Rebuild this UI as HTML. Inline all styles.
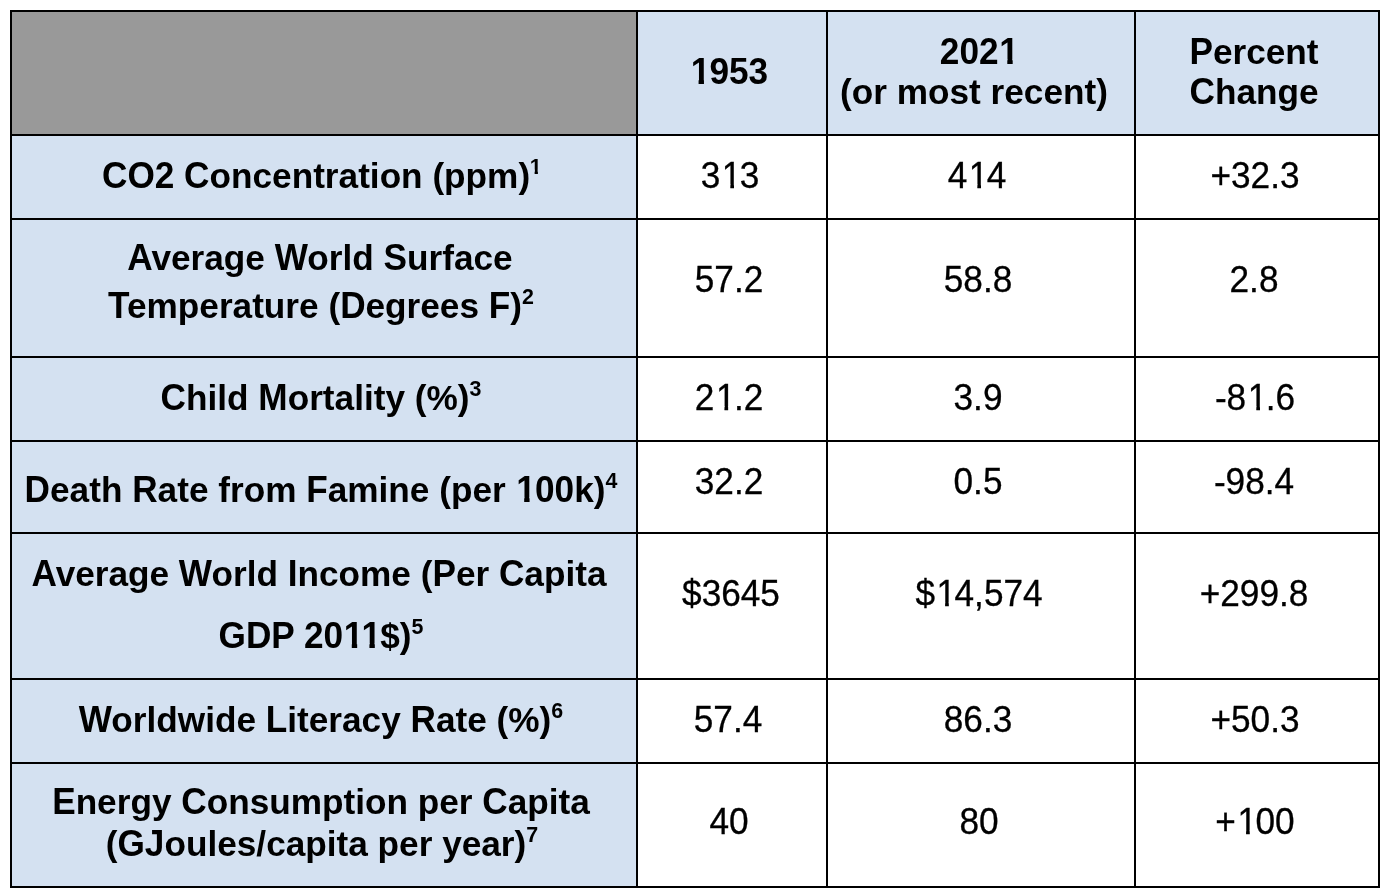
<!DOCTYPE html>
<html><head><meta charset="utf-8"><title>Table</title>
<style>
html,body{margin:0;padding:0;background:#fff;}
body{width:1394px;height:896px;position:relative;overflow:hidden;font-family:"Liberation Sans",sans-serif;color:#000;}
.grid{position:absolute;left:10px;top:10px;width:1370px;height:878px;background:#000;}
.c{position:absolute;}
.b{background:#d4e1f1;}
.g{background:#999999;}
.w{background:#fff;}
.t{position:absolute;width:800px;height:40px;line-height:40px;font-size:35.2px;text-align:center;white-space:nowrap;will-change:transform;transform-origin:50% 32px;}
.rg{-webkit-text-stroke:.3px #000;}
.bd{font-weight:bold;}
.k1{transform:scaleY(1.03);}
.k2{transform:scaleY(1.02);}
.x{color:transparent;}
.s{font-size:21.4px;position:relative;top:-13.8px;line-height:0;}
.o,.ob{display:inline-block;line-height:1em;position:relative;}
.o{left:.045em;clip-path:polygon(0 0,100% 0,100% .75em,.348em .75em,.348em 100%,.2435em 100%,.2435em .75em,0 .75em);}
.ob{left:.023em;clip-path:polygon(0 0,100% 0,100% .722em,.3786em .722em,.3786em 100%,.2254em 100%,.2254em .722em,0 .722em);}
.s .ob{left:-.015em;clip-path:polygon(0 0,100% 0,100% .6em,.3786em .6em,.3786em 100%,.2254em 100%,.2254em .6em,0 .6em);}
.k{margin-left:-.0552em;}
</style></head><body>
<div class="grid"></div>
<div class="c g" style="left:12px;top:12px;width:624px;height:122px"></div>
<div class="c b" style="left:638px;top:12px;width:188px;height:122px"></div>
<div class="c b" style="left:828px;top:12px;width:306px;height:122px"></div>
<div class="c b" style="left:1136px;top:12px;width:242px;height:122px"></div>
<div class="c b" style="left:12px;top:136px;width:624px;height:82px"></div>
<div class="c w" style="left:638px;top:136px;width:188px;height:82px"></div>
<div class="c w" style="left:828px;top:136px;width:306px;height:82px"></div>
<div class="c w" style="left:1136px;top:136px;width:242px;height:82px"></div>
<div class="c b" style="left:12px;top:220px;width:624px;height:136px"></div>
<div class="c w" style="left:638px;top:220px;width:188px;height:136px"></div>
<div class="c w" style="left:828px;top:220px;width:306px;height:136px"></div>
<div class="c w" style="left:1136px;top:220px;width:242px;height:136px"></div>
<div class="c b" style="left:12px;top:358px;width:624px;height:82px"></div>
<div class="c w" style="left:638px;top:358px;width:188px;height:82px"></div>
<div class="c w" style="left:828px;top:358px;width:306px;height:82px"></div>
<div class="c w" style="left:1136px;top:358px;width:242px;height:82px"></div>
<div class="c b" style="left:12px;top:442px;width:624px;height:90px"></div>
<div class="c w" style="left:638px;top:442px;width:188px;height:90px"></div>
<div class="c w" style="left:828px;top:442px;width:306px;height:90px"></div>
<div class="c w" style="left:1136px;top:442px;width:242px;height:90px"></div>
<div class="c b" style="left:12px;top:534px;width:624px;height:144px"></div>
<div class="c w" style="left:638px;top:534px;width:188px;height:144px"></div>
<div class="c w" style="left:828px;top:534px;width:306px;height:144px"></div>
<div class="c w" style="left:1136px;top:534px;width:242px;height:144px"></div>
<div class="c b" style="left:12px;top:680px;width:624px;height:82px"></div>
<div class="c w" style="left:638px;top:680px;width:188px;height:82px"></div>
<div class="c w" style="left:828px;top:680px;width:306px;height:82px"></div>
<div class="c w" style="left:1136px;top:680px;width:242px;height:82px"></div>
<div class="c b" style="left:12px;top:764px;width:624px;height:122px"></div>
<div class="c w" style="left:638px;top:764px;width:188px;height:122px"></div>
<div class="c w" style="left:828px;top:764px;width:306px;height:122px"></div>
<div class="c w" style="left:1136px;top:764px;width:242px;height:122px"></div>
<div class="t bd k1" id="h2" style="left:328.95px;top:51.80px"><span class="ob">1</span>953</div>
<div class="t bd k1" id="h3a" style="left:578.61px;top:31.70px">202<span class="ob">1</span></div>
<div class="t bd k2" id="h3b" style="left:574.43px;top:71.50px">(or most recent)</div>
<div class="t bd k2" id="h4a" style="left:854.15px;top:31.70px"><span class="x">P</span>ercent</div>
<div class="t bd k1" aria-hidden="true" style="left:854.15px;top:31.70px">P<span class="x">ercent</span></div>
<div class="t bd k2" id="h4b" style="left:854.40px;top:71.50px"><span class="x">C</span>hange</div>
<div class="t bd k1" aria-hidden="true" style="left:854.40px;top:71.50px">C<span class="x">hange</span></div>
<div class="t bd k2" id="r1c1" style="left:-78.33px;top:155.75px"><span class="x">CO2</span> <span class="x">C</span>oncentration (ppm)<span class="s x"><span class="ob">1</span></span></div>
<div class="t bd k1" aria-hidden="true" style="left:-78.33px;top:155.75px">CO2 C<span class="x">oncentration</span> <span class="x">(ppm)</span><span class="s"><span class="ob">1</span></span></div>
<div class="t bd k2" id="r2c1a" style="left:-79.90px;top:237.80px"><span class="x">A</span>verage <span class="x">W</span>orld <span class="x">S</span>urface</div>
<div class="t bd k1" aria-hidden="true" style="left:-79.90px;top:237.80px">A<span class="x">verage</span> W<span class="x">orld</span> S<span class="x">urface</span></div>
<div class="t bd k2" id="r2c1b" style="left:-79.15px;top:285.80px"><span class="x">T</span>emperature (<span class="x">D</span>egrees <span class="x">F</span>)<span class="s x">2</span></div>
<div class="t bd k1" aria-hidden="true" style="left:-79.15px;top:285.80px">T<span class="x">emperature</span> <span class="x">(</span>D<span class="x">egrees</span> F<span class="x">)</span><span class="s">2</span></div>
<div class="t bd k2" id="r3c1" style="left:-78.63px;top:377.80px"><span class="x">C</span>hild <span class="x">M</span>ortality (%)<span class="s x">3</span></div>
<div class="t bd k1" aria-hidden="true" style="left:-78.63px;top:377.80px">C<span class="x">hild</span> M<span class="x">ortality</span> <span class="x">(%)</span><span class="s">3</span></div>
<div class="t bd k2" id="r4c1" style="left:-79.44px;top:469.75px"><span class="x">D</span>eath <span class="x">R</span>ate from <span class="x">F</span>amine (per <span class="ob x">1</span><span class="x">00</span>k)<span class="s x">4</span></div>
<div class="t bd k1" aria-hidden="true" style="left:-79.44px;top:469.75px">D<span class="x">eath</span> R<span class="x">ate</span> <span class="x">from</span> F<span class="x">amine</span> <span class="x">(per</span> <span class="ob">1</span>00<span class="x">k)</span><span class="s">4</span></div>
<div class="t bd k2" id="r5c1a" style="left:-81.01px;top:553.90px"><span class="x">A</span>verage <span class="x">W</span>orld <span class="x">I</span>ncome (<span class="x">P</span>er <span class="x">C</span>apita</div>
<div class="t bd k1" aria-hidden="true" style="left:-81.01px;top:553.90px">A<span class="x">verage</span> W<span class="x">orld</span> I<span class="x">ncome</span> <span class="x">(</span>P<span class="x">er</span> C<span class="x">apita</span></div>
<div class="t bd k2" id="r5c1b" style="left:-79.36px;top:615.80px"><span class="x">GDP</span> <span class="x">20</span><span class="ob x">1</span><span class="ob k x">1</span>$)<span class="s x">5</span></div>
<div class="t bd k1" aria-hidden="true" style="left:-79.36px;top:615.80px">GDP 20<span class="ob">1</span><span class="ob k">1</span><span class="x">$)</span><span class="s">5</span></div>
<div class="t bd k2" id="r6c1" style="left:-78.91px;top:699.80px"><span class="x">W</span>orldwide <span class="x">L</span>iteracy <span class="x">R</span>ate (%)<span class="s x">6</span></div>
<div class="t bd k1" aria-hidden="true" style="left:-78.91px;top:699.80px">W<span class="x">orldwide</span> L<span class="x">iteracy</span> R<span class="x">ate</span> <span class="x">(%)</span><span class="s">6</span></div>
<div class="t bd k2" id="r7c1a" style="left:-78.65px;top:782.00px"><span class="x">E</span>nergy <span class="x">C</span>onsumption per <span class="x">C</span>apita</div>
<div class="t bd k1" aria-hidden="true" style="left:-78.65px;top:782.00px">E<span class="x">nergy</span> C<span class="x">onsumption</span> <span class="x">per</span> C<span class="x">apita</span></div>
<div class="t bd k2" id="r7c1b" style="left:-78.26px;top:824.00px">(<span class="x">GJ</span>oules/capita per year)<span class="s x">7</span></div>
<div class="t bd k1" aria-hidden="true" style="left:-78.26px;top:824.00px"><span class="x">(</span>GJ<span class="x">oules/capita</span> <span class="x">per</span> <span class="x">year)</span><span class="s">7</span></div>
<div class="t rg k1" id="r1c2" style="left:330.24px;top:155.75px">3<span class="o">1</span>3</div>
<div class="t rg k1" id="r1c3" style="left:577.06px;top:155.75px">4<span class="o">1</span>4</div>
<div class="t rg k1" id="r1c4" style="left:854.99px;top:155.75px">+32.3</div>
<div class="t rg k1" id="r2c2" style="left:328.71px;top:259.75px">57.2</div>
<div class="t rg k1" id="r2c3" style="left:578.07px;top:259.75px">58.8</div>
<div class="t rg k1" id="r2c4" style="left:854.23px;top:259.75px">2.8</div>
<div class="t rg k1" id="r3c2" style="left:328.68px;top:377.80px">2<span class="o">1</span>.2</div>
<div class="t rg k1" id="r3c3" style="left:577.65px;top:377.80px">3.9</div>
<div class="t rg k1" id="r3c4" style="left:854.71px;top:377.80px">-8<span class="o">1</span>.6</div>
<div class="t rg k1" id="r4c2" style="left:328.77px;top:461.75px">32.2</div>
<div class="t rg k1" id="r4c3" style="left:577.56px;top:461.75px">0.5</div>
<div class="t rg k1" id="r4c4" style="left:854.41px;top:461.75px">-98.4</div>
<div class="t rg k1" id="r5c2" style="left:330.66px;top:573.80px">$3645</div>
<div class="t rg k1" id="r5c3" style="left:578.92px;top:573.80px">$<span class="o">1</span>4,574</div>
<div class="t rg k1" id="r5c4" style="left:853.80px;top:573.80px">+299.8</div>
<div class="t rg k1" id="r6c2" style="left:328.12px;top:699.80px">57.4</div>
<div class="t rg k1" id="r6c3" style="left:578.08px;top:699.80px">86.3</div>
<div class="t rg k1" id="r6c4" style="left:855.09px;top:699.80px">+50.3</div>
<div class="t rg k1" id="r7c2" style="left:328.90px;top:801.60px">40</div>
<div class="t rg k1" id="r7c3" style="left:578.75px;top:801.60px">80</div>
<div class="t rg k1" id="r7c4" style="left:854.59px;top:801.60px">+<span class="o">1</span>00</div>
</body></html>
